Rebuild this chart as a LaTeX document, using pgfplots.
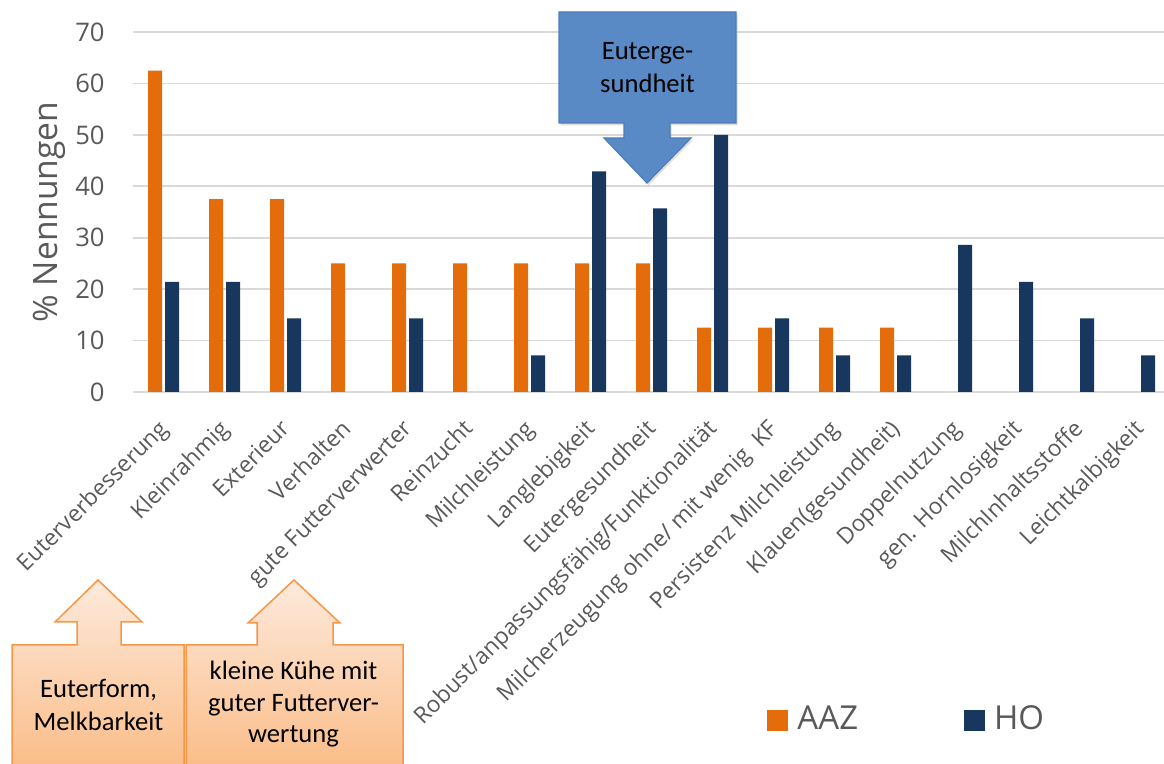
\documentclass[border=0pt]{standalone}
\usepackage{fontspec}
\setmainfont{Open Sans}
\newfontfamily\callfont{Carlito}
\usepackage{pgfplots}
\usepackage{pgfplotstable}
\pgfplotsset{compat=1.18}
\usetikzlibrary{shadows}

\definecolor{aaz}{HTML}{E46C0A}
\definecolor{ho}{HTML}{17375E}
\definecolor{gridgray}{HTML}{D9D9D9}
\definecolor{labgray}{HTML}{595959}
\definecolor{callblue}{HTML}{5A8AC6}
\definecolor{callblueedge}{HTML}{4A7DBA}
\definecolor{peachtop}{HTML}{FDEADC}
\definecolor{peachbot}{HTML}{FBBB85}
\definecolor{orangeedge}{HTML}{F79646}

% % Nennungen, AAZ (n=8) und HO (n=14)
\pgfplotstableread{
x  aaz   ho
0  62.5  21.4
1  37.5  21.4
2  37.5  14.3
3  25    0
4  25    14.3
5  25    0
6  25    7.1
7  25    42.9
8  25    35.7
9  12.5  50
10 12.5  14.3
11 12.5  7.1
12 12.5  7.1
13 0     28.6
14 0     21.4
15 0     14.3
16 0     7.1
}\nennungen

\begin{document}
\begin{tikzpicture}
\useasboundingbox (0,0) rectangle (582pt,-382pt);
\begin{axis}[
    at={(66.5pt,-196pt)}, anchor=south west,
    scale only axis,
    width=515.5pt, height=180pt,
    xmin=-0.5, xmax=16.40,
    ymin=0, ymax=70,
    ytick={0,10,...,70},
    xtick={0,...,16},
    xticklabels={Euterverbesserung,Kleinrahmig,Exterieur,Verhalten,gute Futterverwerter,Reinzucht,Milchleistung,Langlebigkeit,Eutergesundheit,Robust/anpassungsfähig/Funktionalität,{Milcherzeugung ohne/ mit wenig\ \ KF},Persistenz Milchleistung,Klauen(gesundheit),Doppelnutzung,gen. Hornlosigkeit,MilchInhaltsstoffe,Leichtkalbigkeit},
    axis line style={draw=none},
    major tick length=0pt,
    ymajorgrids,
    grid style={draw=gridgray, line width=0.8pt},
    unbounded coords=discard,
    /pgf/number format/assume math mode=true,
    y tick label style={font=\fontsize{12.8pt}{15pt}\selectfont, text=labgray, inner sep=0pt, anchor=east, xshift=-14pt},
    x tick label style={font=\fontsize{11.4pt}{14pt}\selectfont, text=labgray, inner sep=0pt, yshift=-19pt, xshift=3pt, rotate=45, anchor=base east},
    ylabel={\% Nennungen},
    ylabel style={font=\fontsize{16.8pt}{19pt}\selectfont, text=labgray, at={(axis description cs:-0.0737,0.5)}, anchor=base, inner sep=0pt},
    legend columns=2,
    legend style={draw=none, fill=none, inner sep=0pt, at={(axis description cs:0.615,-0.947)}, anchor=south west,
        font=\fontsize{16.5pt}{19pt}\selectfont, text=labgray, nodes={inner sep=0pt},
        /tikz/every odd column/.append style={column sep=4.5pt},
        /tikz/every even column/.append style={column sep=53pt}},
]
\addplot[ybar, bar width=7pt, bar shift=-4.25pt, fill=aaz, draw=none,
    y filter/.expression={y==0 ? nan : y},
    legend image code/.code={\fill[aaz] (0pt,-5.9pt) rectangle (10.5pt,4.6pt);}]
    table[x=x, y=aaz] {\nennungen};
\addlegendentry{AAZ}
\addplot[ybar, bar width=7pt, bar shift=4.25pt, fill=ho, draw=none,
    y filter/.expression={y==0 ? nan : y},
    legend image code/.code={\fill[ho] (0pt,-5.9pt) rectangle (10.5pt,4.6pt);}]
    table[x=x, y=ho] {\nennungen};
\addlegendentry{HO}
\end{axis}

\begin{scope}[x=0.5pt, y=-0.5pt]
% Pfeil Eutergesundheit
\filldraw[fill=callblue, draw=callblueedge, line width=0.6pt,
    drop shadow={opacity=0.25, shadow xshift=0.8pt, shadow yshift=-1.2pt}]
    (559,12) -- (736,12) -- (736,123) -- (670,123) -- (670,138) -- (691,138)
    -- (647,183) -- (604,138) -- (624,138) -- (624,123) -- (559,123) -- cycle;
\node[font=\callfont\fontsize{13.3pt}{16pt}\selectfont, anchor=base] at (647.5,60) {Euterge-};
\node[font=\callfont\fontsize{13.3pt}{16pt}\selectfont, anchor=base] at (647.5,93) {sundheit};

% Pfeile unten
\filldraw[top color=peachtop, bottom color=peachbot, draw=orangeedge, line width=0.75pt]
    (12,645) -- (77,645) -- (77,622) -- (55,622) -- (98,580) -- (142,622)
    -- (121,622) -- (121,645) -- (184,645) -- (184,775) -- (12,775) -- cycle;
\filldraw[top color=peachtop, bottom color=peachbot, draw=orangeedge, line width=0.75pt]
    (186,645) -- (257,645) -- (257,623) -- (248,623) -- (294,580) -- (340,623)
    -- (333,623) -- (333,645) -- (403,645) -- (403,775) -- (186,775) -- cycle;
\node[font=\callfont\fontsize{13.3pt}{16pt}\selectfont, anchor=base] at (98.5,698) {Euterform,};
\node[font=\callfont\fontsize{13.3pt}{16pt}\selectfont, anchor=base] at (98.5,731) {Melkbarkeit};
\node[font=\callfont\fontsize{13.3pt}{16pt}\selectfont, anchor=base] at (293.5,680) {kleine Kühe mit};
\node[font=\callfont\fontsize{13.3pt}{16pt}\selectfont, anchor=base] at (293.5,712) {guter Futterver-};
\node[font=\callfont\fontsize{13.3pt}{16pt}\selectfont, anchor=base] at (293.5,743) {wertung};
\end{scope}
\end{tikzpicture}
\end{document}
